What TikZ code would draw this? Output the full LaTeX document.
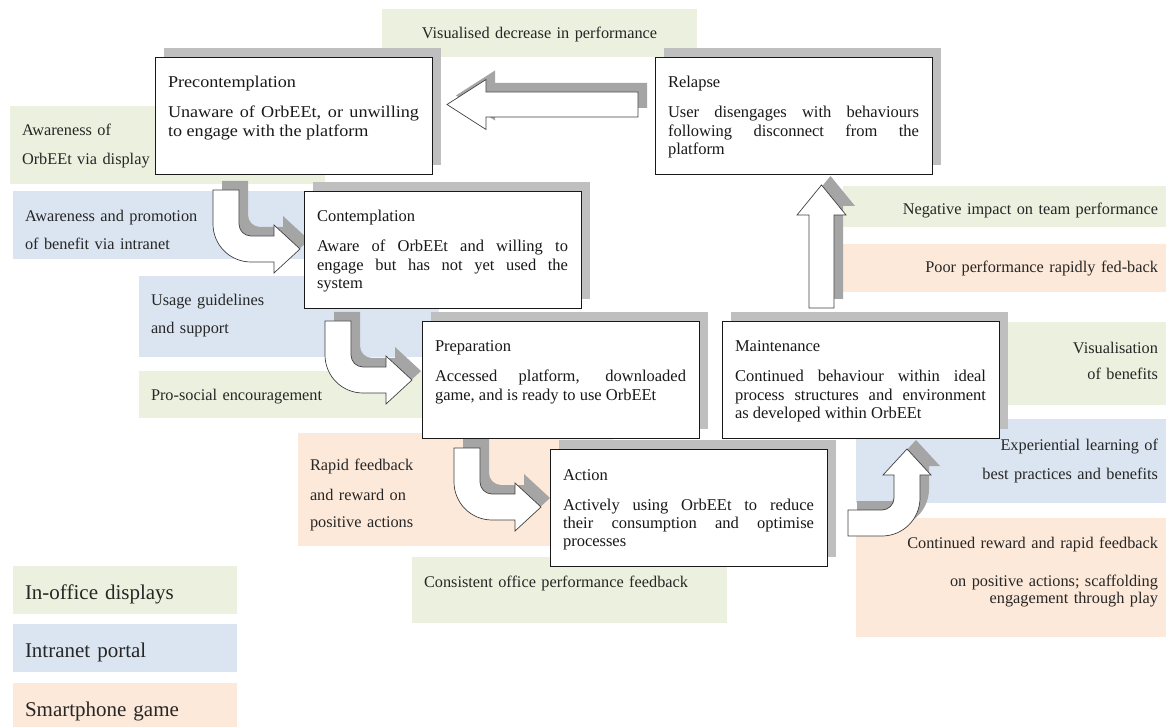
\documentclass[tikz,border=0pt]{standalone}
\usepackage{fontspec}
\setmainfont{Liberation Serif}
\newfontfamily\widefont{Liberation Serif}[FakeStretch=1.1]
\usetikzlibrary{calc,shadows}

\definecolor{dispgreen}{RGB}{235,241,222}
\definecolor{portalblue}{RGB}{219,229,241}
\definecolor{gameorange}{RGB}{253,233,217}
\definecolor{boxshade}{RGB}{191,191,191}
\definecolor{arrowshade}{RGB}{165,165,165}

\pgfdeclarelayer{back}
\pgfdeclarelayer{arrows}
\pgfsetlayers{back,arrows,main}

\newcommand{\boxfont}{\fontsize{16.5}{18.3}\selectfont}
\newcommand{\cuefont}{\fontsize{16.3}{29}\selectfont}
\newcommand{\keyfont}{\fontsize{21}{25}\selectfont}
\newcommand{\stagetext}[2]{\parbox[t][117pt][t]{251pt}{\tolerance=10000\hyphenpenalty=10000
  \rule{0pt}{31pt}#1\par\vspace{11.7pt}#2}}

\tikzset{
  stage/.style={draw=black!90, line width=0.9pt, fill=white, anchor=north west,
    inner xsep=13pt, inner ysep=0pt, outer sep=0pt, font=\boxfont, text=black!90,
    general shadow={fill=boxshade, shadow xshift=9pt, shadow yshift=9pt}},
  cue/.style={anchor=north west, inner xsep=12pt, inner ysep=0pt, outer sep=0pt,
    font=\cuefont, text=black!85},
  cueright/.style={cue, inner xsep=8pt, align=right},
  key/.style={cue, font=\keyfont, minimum width=224pt, text width=200pt, align=left,
    text height=33pt, text depth=15pt},
  blockarrow/.style={draw=black!75, line width=0.7pt, fill=white,
    general shadow={fill=arrowshade, shadow xshift=9pt, shadow yshift=9pt}},
  bentdown/.pic={
    \path[blockarrow] (0,0) -- (0,34) .. controls (0,55) and (17,72) .. (38,72)
      -- (61,72) -- (61,83) -- (87,59) -- (61,35) -- (61,46) -- (38,46)
      .. controls (31.4,46) and (26,40.6) .. (26,34) -- (26,0) -- cycle;
  },
  bentup/.pic={
    \path[blockarrow] (0,0) -- (34,0) .. controls (55,0) and (72,-17) .. (72,-38)
      -- (72,-61) -- (83,-61) -- (59,-87) -- (35,-61) -- (46,-61) -- (46,-38)
      .. controls (46,-31.4) and (40.6,-26) .. (34,-26) -- (0,-26) -- cycle;
  }
}

\begin{document}
\begin{tikzpicture}[x=1pt, y=-1pt]
  \useasboundingbox (0,0) rectangle (1168,727);

  % stages
  \node[stage, font=\widefont\boxfont] (precon) at (155,57)
    {\stagetext{Precontemplation}{Unaware of OrbEEt, or unwilling\linebreak to engage with the platform}};
  \node[stage] (relapse) at (655,57)
    {\stagetext{Relapse}{User disengages with behaviours\linebreak following disconnect from the\linebreak platform}};
  \node[stage] (cont) at (304,191)
    {\stagetext{Contemplation}{Aware of OrbEEt and willing to\linebreak engage but has not yet used the\linebreak system}};
  \node[stage] (prep) at (422,321)
    {\stagetext{Preparation}{Accessed platform, downloaded\linebreak game, and is ready to use OrbEEt}};
  \node[stage] (maint) at (722,321)
    {\stagetext{Maintenance}{Continued behaviour within ideal\linebreak process structures and environment\linebreak as developed within OrbEEt}};
  \node[stage] (act) at (550,449)
    {\stagetext{Action}{Actively using OrbEEt to reduce\linebreak their consumption and optimise\linebreak processes}};

  % arrows between stages
  \begin{pgfonlayer}{arrows}
    \pic at ($(precon.south west)+(58,16)$) {bentdown};
    \pic at ($(cont.south west)+(21,13)$) {bentdown};
    \pic at ($(prep.south west)+(32,10)$) {bentdown};
    \pic at ($(act.south east)+(21,-30)$) {bentup};
    \draw[blockarrow] ($(maint.north west)+(87,-13)$) -- ++(0,-93) -- ++(-12,0)
      -- ++(24.5,-30) -- ++(24.5,30) -- ++(-12,0) -- ++(0,93) -- cycle;
    \draw[blockarrow] ($(relapse.north west)+(-17,35)$) -- ++(-152,0) -- ++(0,-12.5)
      -- ++(-39,25) -- ++(39,25) -- ++(0,-12.5) -- ++(152,0) -- cycle;
  \end{pgfonlayer}

  % channel cues
  \begin{pgfonlayer}{back}
    \node[cue, fill=dispgreen, minimum width=315pt, text width=291pt, align=center,
      text height=30pt, text depth=18pt] (visdec) at (382,9) {Visualised decrease in performance};
    \node[cue, fill=dispgreen, minimum width=315pt, text width=291pt, align=left,
      text height=30pt, text depth=48pt] (awdisp) at (10,106) {Awareness of\\OrbEEt via display};
    \node[cue, fill=portalblue, minimum width=307pt, text width=283pt, align=left,
      text height=31pt, text depth=37pt] (awintra) at (13,191) {Awareness and promotion\\[-1pt]of benefit via intranet};
    \node[cue, fill=portalblue, minimum width=300pt, text width=276pt, align=left,
      text height=30pt, text depth=51pt] (usage) at (139,276) {Usage guidelines\\[-1pt]and support};
    \node[cue, fill=dispgreen, minimum width=300pt, text width=276pt, align=left,
      text height=29pt, text depth=18pt] (prosoc) at (139,371) {Pro-social encouragement};
    \node[cue, fill=gameorange, minimum width=315pt, text width=291pt, align=left,
      text height=37pt, text depth=76pt] (rapid) at (298,433) {Rapid feedback\\[1pt]and reward on\\[-1pt]positive actions};
    \node[cue, fill=dispgreen, minimum width=315pt, text width=291pt, align=left,
      text height=30pt, text depth=36pt] (consist) at (412,557) {Consistent office performance feedback};
    \node[cueright, fill=dispgreen, minimum width=323pt, text width=307pt,
      text height=29pt, text depth=12pt] (negimp) at (843,186) {Negative impact on team performance};
    \node[cueright, fill=gameorange, minimum width=323pt, text width=307pt,
      text height=29pt, text depth=19pt] (poor) at (843,244) {Poor performance rapidly fed-back};
    \node[cueright, fill=dispgreen, minimum width=315pt, text width=299pt,
      text height=32pt, text depth=51pt] (visben) at (851,322) {Visualisation\\[-3pt]of benefits};
    \node[cueright, fill=portalblue, minimum width=310pt, text width=294pt,
      text height=31pt, text depth=53pt] (exper) at (856,419) {Experiential learning of\\best practices and benefits};
    \node[cueright, fill=gameorange, minimum width=310pt, text width=294pt,
      font=\fontsize{16.3}{17}\selectfont, text height=30pt, text depth=89pt] (contrew) at (856,518)
      {Continued reward and rapid feedback\\[21pt]on positive actions; scaffolding\\engagement through play};
    % legend
    \foreach \name/\col/\y/\txt in {office/dispgreen/566/In-office displays,
        portal/portalblue/624/Intranet portal, game/gameorange/683/Smartphone game}
      \node[key, fill=\col] (key-\name) at (13,\y) {\txt};
  \end{pgfonlayer}
\end{tikzpicture}
\end{document}
